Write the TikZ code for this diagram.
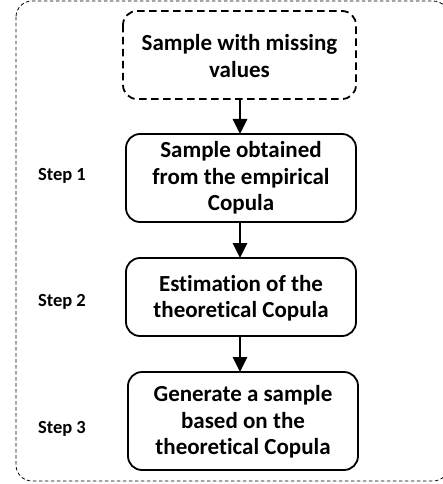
\documentclass[tikz,border=0pt]{standalone}
\usepackage{fontspec}
\setmainfont[Ligatures={TeX,NoCommon}]{Carlito}
\usetikzlibrary{arrows.meta}
\begin{document}
\begin{tikzpicture}[x=1pt,y=-1pt,
  box/.style={draw, line width=1.8pt, rounded corners=14pt, align=center, font=\bfseries\fontsize{23}{26.5}\selectfont},
  steplbl/.style={font=\bfseries\fontsize{18.5}{22}\selectfont},
  arr/.style={line width=2.8pt, -{Triangle[width=14pt,length=15pt]}}]
\useasboundingbox (0,0) rectangle (443,484);
\draw[line width=0.8pt, dash pattern=on 3.5pt off 2.5pt, rounded corners=16pt] (16,1) rectangle (449,481);
\path[box, dash pattern=on 7.5pt off 4.5pt] (123,11) rectangle (356,99);
\node[box, draw=none] (b1) at (239.5,56) {Sample with missing\\values};
\coordinate (b1s) at (240,99);
\path[box] (126,134) rectangle (356,222);
\node[box, draw=none] (b2) at (241,178) {Sample obtained\\from the empirical\\Copula};
\coordinate (b2n) at (240,134);
\coordinate (b2s) at (240,222);
\path[box] (126,258) rectangle (356,336);
\node[box, draw=none] (b3) at (241,298) {Estimation of the\\theoretical Copula};
\coordinate (b3n) at (240,258);
\coordinate (b3s) at (240,336);
\path[box] (128,372) rectangle (358,470);
\node[box, draw=none] (b4) at (243,422) {Generate a sample\\based on the\\theoretical Copula};
\coordinate (b4n) at (240,372);
\draw[arr] (b1s) -- (b2n);
\draw[arr] (b2s) -- (b3n);
\draw[arr] (b3s) -- (b4n);
\node[steplbl] (s1) at (62,176) {Step 1};
\node[steplbl] (s2) at (62,302) {Step 2};
\node[steplbl] (s3) at (62,429) {Step 3};
\end{tikzpicture}
\end{document}
